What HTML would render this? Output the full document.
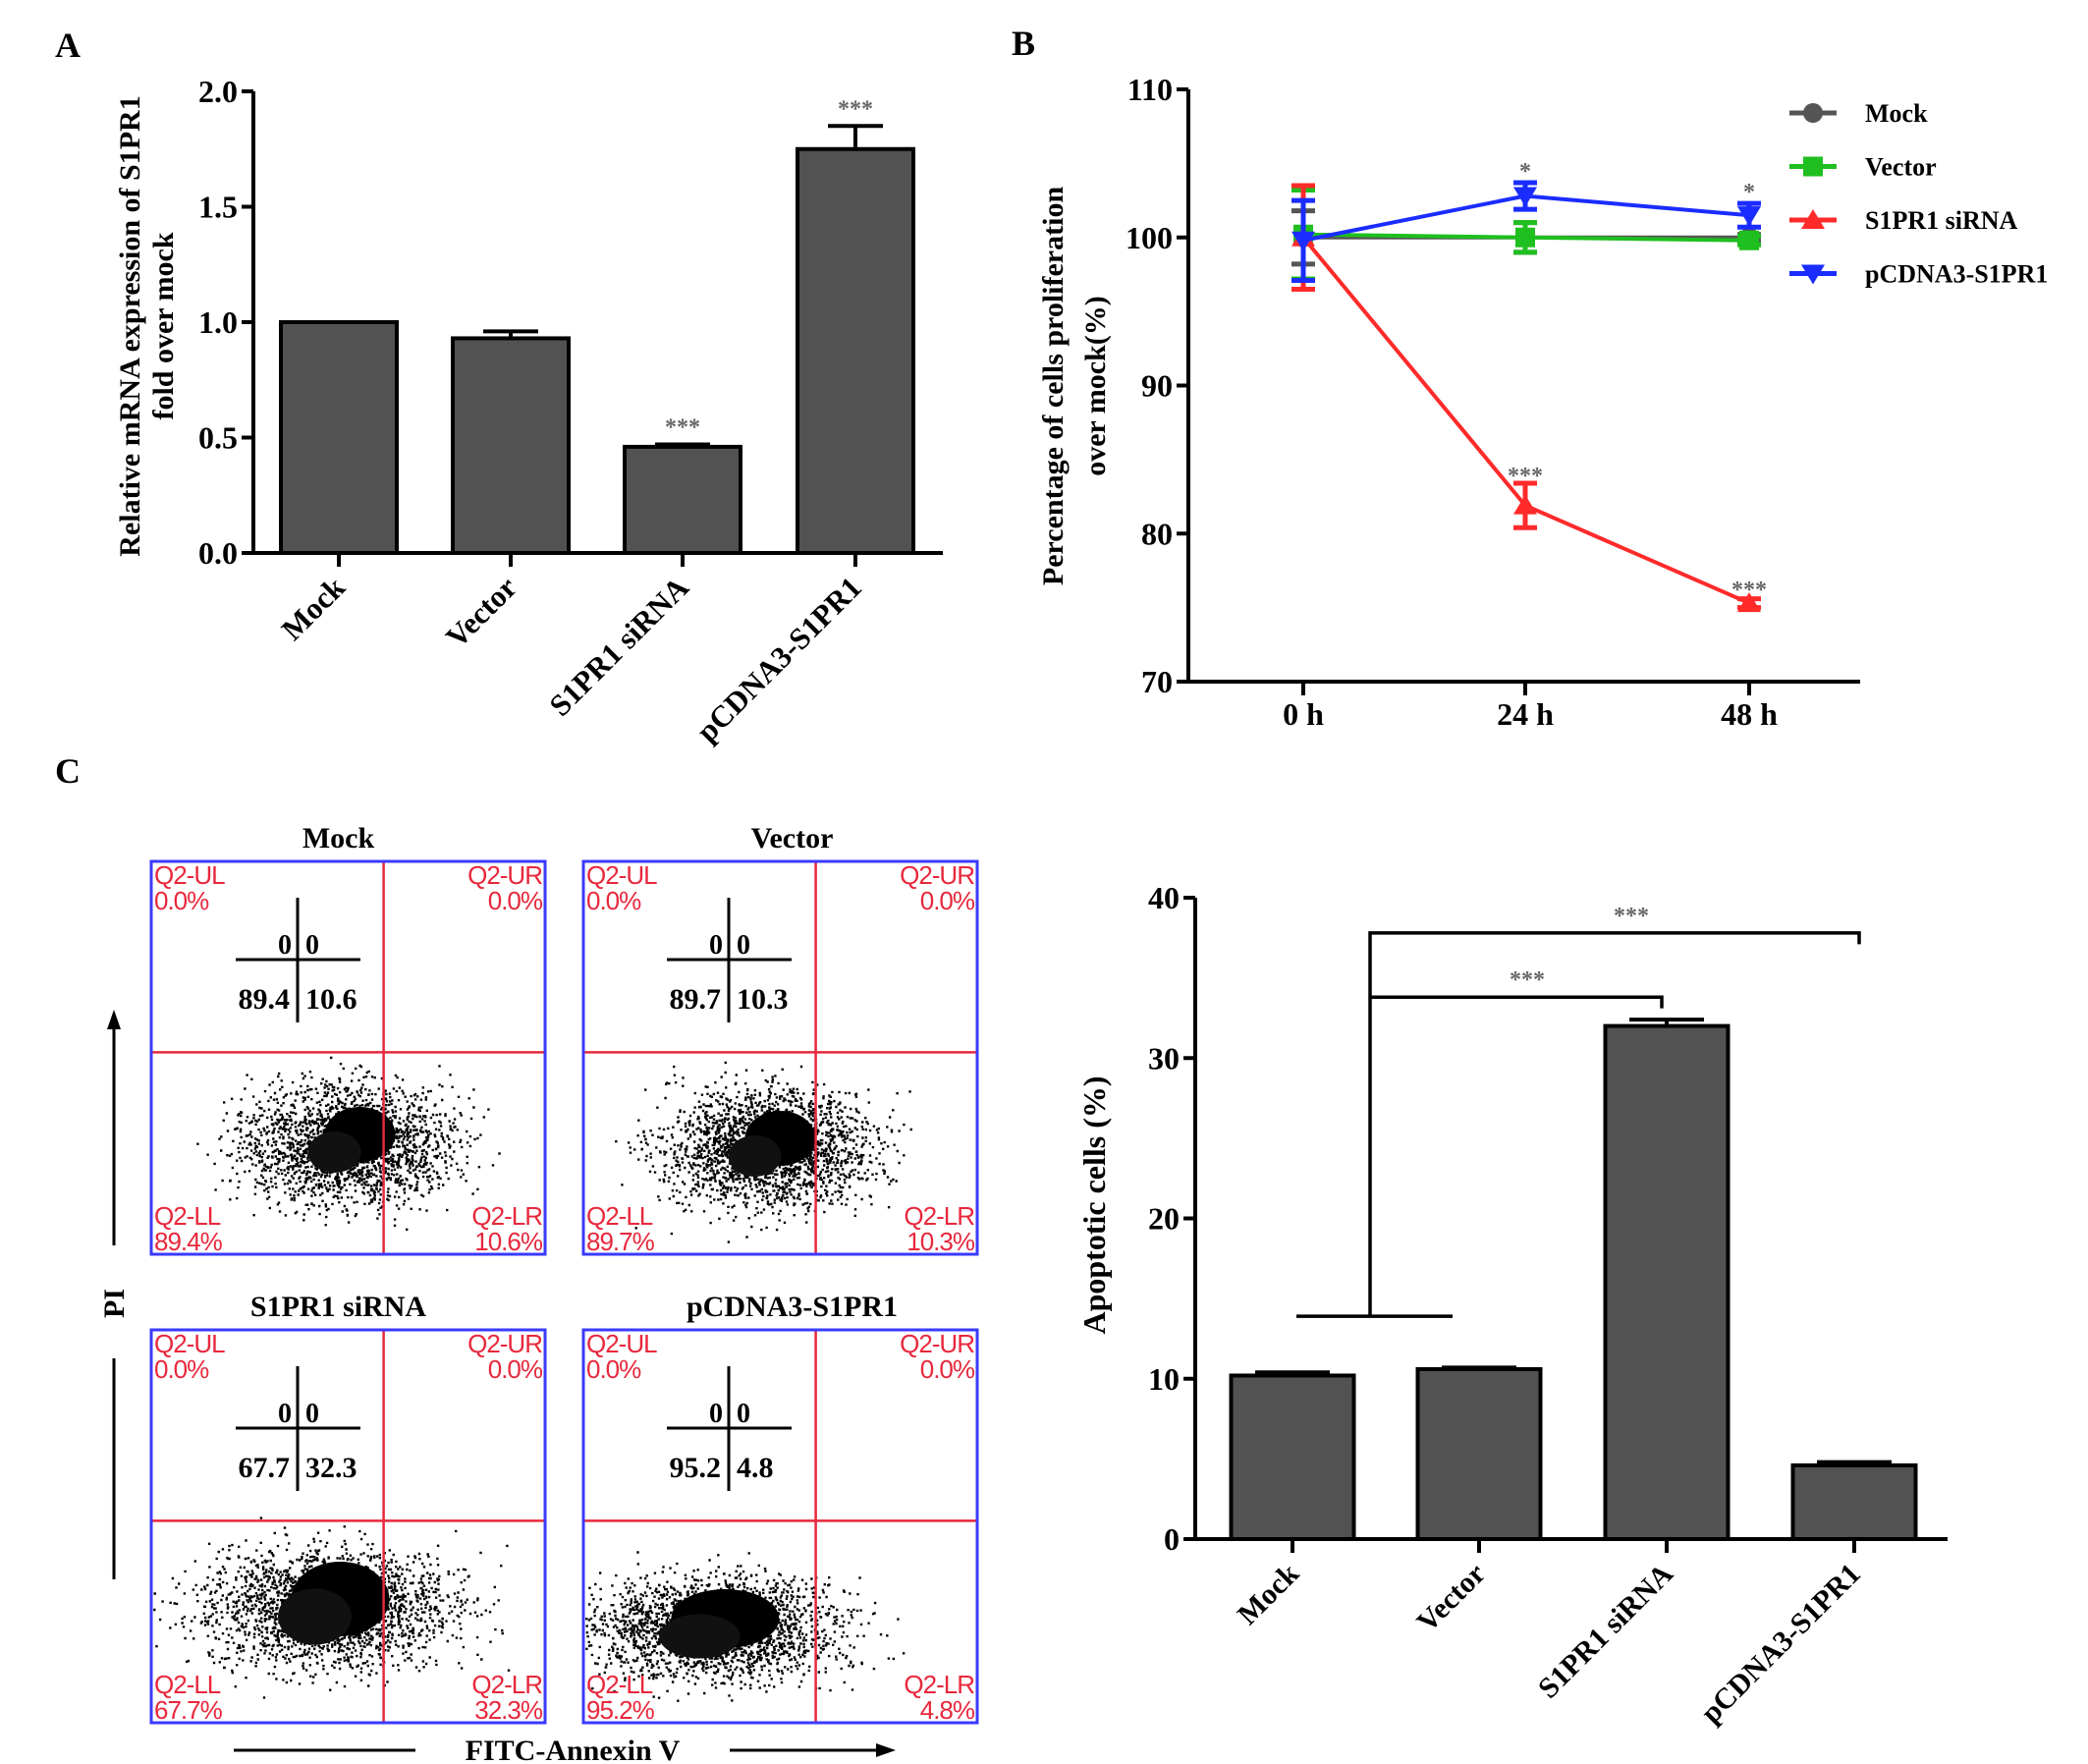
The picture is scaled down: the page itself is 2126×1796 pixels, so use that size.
<!DOCTYPE html>
<html><head><meta charset="utf-8"><style>
html,body{margin:0;padding:0;background:#fff}
svg{display:block}
text{font-family:"Liberation Serif",serif;font-weight:bold}
.q{font-family:"Liberation Sans",sans-serif;font-weight:normal;fill:#e8283c;font-size:26px;letter-spacing:-1px}
</style></head><body>
<svg id="fig" width="2126" height="1796" viewBox="0 0 2126 1796" xmlns="http://www.w3.org/2000/svg">
<text x="56" y="58" font-size="36">A</text>
<text x="1030" y="56" font-size="36">B</text>
<text x="56" y="797" font-size="36">C</text>
<g id="A"></g>
<g id="B"></g>
<g id="C"></g>
<g id="D"></g>
</svg>
<script>
// Panel A data
const aCats=["Mock","Vector","S1PR1 siRNA","pCDNA3-S1PR1"];
const aVals=[1.0,0.93,0.46,1.75];
const aErr=[0,0.03,0.01,0.1];
const aStars=["","","***","***"];
const aTicks=[0,0.5,1.0,1.5,2.0];
// Panel B data
const bTimes=["0 h","24 h","48 h"];
const bSeries=["Mock","Vector","S1PR1 siRNA","pCDNA3-S1PR1"];
const bMock=[100,100,100];
const bVector=[100.2,100,99.8];
const bSi=[100,81.9,75.3];
const bPc=[99.8,102.8,101.5];
const bErrMock=[1.8,1.0,0.2];
const bErrVector=[3.0,1.0,0.3];
const bErrSi=[3.5,1.5,0.3];
const bErrPc=[2.7,0.9,0.8];
const bTicks=[70,80,90,100,110];
// Panel C flow data
const cTitles=["Mock","Vector","S1PR1 siRNA","pCDNA3-S1PR1"];
const cLL=[89.4,89.7,67.7,95.2];
const cLR=[10.6,10.3,32.3,4.8];
const cUL=[0,0,0,0];
const cUR=[0,0,0,0];
// Panel C bar data
const dCats=["Mock","Vector","S1PR1 siRNA","pCDNA3-S1PR1"];
const dVals=[10.2,10.6,32.0,4.6];
const dErr=[0.2,0.1,0.4,0.2];
const dTicks=[0,10,20,30,40];

const NS="http://www.w3.org/2000/svg";
function mk(p,tag,at,txt){const e=document.createElementNS(NS,tag);for(const k in at)e.setAttribute(k,at[k]);if(txt!==undefined)e.textContent=txt;p.appendChild(e);return e;}
const fmt1=v=>v.toFixed(1);

// ---------- Panel A ----------
(function(){
const g=document.getElementById('A');
const x0=258,x1=960,yT=93,yB=563,vmax=2.0;
const y=v=>yB-(v/vmax)*(yB-yT);
const centers=[345,520,695,871],bw=118;
let e=mk(g,'line',{x1:x0,y1:yT,x2:x0,y2:yB,stroke:'#000','stroke-width':4});


e=mk(g,'line',{x1:x0-2,y1:yB,x2:x1,y2:yB,stroke:'#000','stroke-width':4});


aTicks.forEach(t=>{
mk(g,'line',{x1:x0-12,y1:y(t),x2:x0,y2:y(t),stroke:'#000','stroke-width':4});
e=mk(g,'text',{x:x0-16,y:y(t)+11,'font-size':32,'text-anchor':'end'},fmt1(t));


});
aVals.forEach((v,i)=>{
const cx=centers[i];
if(aErr[i]>0){
mk(g,'line',{x1:cx,y1:y(v),x2:cx,y2:y(v+aErr[i]),stroke:'#000','stroke-width':4});
mk(g,'line',{x1:cx-28,y1:y(v+aErr[i]),x2:cx+28,y2:y(v+aErr[i]),stroke:'#000','stroke-width':4});}
e=mk(g,'rect',{x:cx-bw/2,y:y(v),width:bw,height:yB-y(v),fill:'#525252',stroke:'#000','stroke-width':4});


mk(g,'line',{x1:cx,y1:yB,x2:cx,y2:yB+14,stroke:'#000','stroke-width':4});
if(aStars[i]){e=mk(g,'text',{x:cx,y:y(v+aErr[i])-10,'font-size':24,fill:'#666','text-anchor':'middle'},aStars[i]);

}
e=mk(g,'text',{x:cx+8,y:600,'font-size':31,'text-anchor':'end',transform:`rotate(-45 ${cx+8} 600)`},aCats[i]);


});
e=mk(g,'text',{x:0,y:0,'font-size':30,'text-anchor':'middle',transform:'translate(142 332) rotate(-90)'},'Relative mRNA expression of S1PR1');


e=mk(g,'text',{x:0,y:0,'font-size':30,'text-anchor':'middle',transform:'translate(176 332) rotate(-90)'},'fold over mock');


})();

// ---------- Panel B ----------
(function(){
const g=document.getElementById('B');
const x0=1210,x1=1894,yT=91,yB=694,vmin=70,vmax=110;
const y=v=>yB-(v-vmin)/(vmax-vmin)*(yB-yT);
const xs=[1327,1553,1781];
let e=mk(g,'line',{x1:x0,y1:yT,x2:x0,y2:yB,stroke:'#000','stroke-width':4});


e=mk(g,'line',{x1:x0-2,y1:yB,x2:x1,y2:yB,stroke:'#000','stroke-width':4});


bTicks.forEach(t=>{
mk(g,'line',{x1:x0-12,y1:y(t),x2:x0,y2:y(t),stroke:'#000','stroke-width':4});
e=mk(g,'text',{x:x0-16,y:y(t)+11,'font-size':32,'text-anchor':'end'},String(t));


});
bTimes.forEach((t,i)=>{
mk(g,'line',{x1:xs[i],y1:yB,x2:xs[i],y2:yB+14,stroke:'#000','stroke-width':4});
e=mk(g,'text',{x:xs[i],y:738,'font-size':32,'text-anchor':'middle'},t);


});
const series=[[bMock,bErrMock,'#555555','circle'],[bVector,bErrVector,'#1fbf1f','square'],[bSi,bErrSi,'#ff2a2a','tri-up'],[bPc,bErrPc,'#1a2cff','tri-down']];
function marker(p,sh,cx,cy,c,s){
if(sh==='circle')return mk(p,'circle',{cx,cy,r:s,fill:c});
if(sh==='square')return mk(p,'rect',{x:cx-s,y:cy-s,width:2*s,height:2*s,fill:c});
if(sh==='tri-up')return mk(p,'polygon',{points:`${cx},${cy-s*1.1} ${cx-s*1.2},${cy+s*0.9} ${cx+s*1.2},${cy+s*0.9}`,fill:c});
return mk(p,'polygon',{points:`${cx},${cy+s*1.1} ${cx-s*1.2},${cy-s*0.9} ${cx+s*1.2},${cy-s*0.9}`,fill:c});}
series.forEach((s,si)=>{
const [vals,errs,c,sh]=s;
const sg=mk(g,'g',{});


mk(sg,'polyline',{points:vals.map((v,i)=>`${xs[i]},${y(v)}`).join(' '),fill:'none',stroke:c,'stroke-width':4});
vals.forEach((v,i)=>{
const a=y(v+errs[i]),b=y(v-errs[i]);
mk(sg,'line',{x1:xs[i],y1:a,x2:xs[i],y2:b,stroke:c,'stroke-width':5});
mk(sg,'line',{x1:xs[i]-12,y1:a,x2:xs[i]+12,y2:a,stroke:c,'stroke-width':5});
mk(sg,'line',{x1:xs[i]-12,y1:b,x2:xs[i]+12,y2:b,stroke:c,'stroke-width':5});
const m=marker(sg,sh,xs[i],y(v),c,10);


});
const ly=115+si*54.5;
const lg=mk(g,'g',{});


mk(lg,'line',{x1:1822,y1:ly,x2:1870,y2:ly,stroke:c,'stroke-width':5});
marker(lg,sh,1846,ly,c,10);
mk(lg,'text',{x:1899,y:ly+9,'font-size':26},bSeries[si]);
});
const stars=[[xs[1],y(bPc[1]+bErrPc[1])-14,'*'],[xs[2],y(bPc[2]+bErrPc[2])-14,'*'],[xs[1],y(bSi[1]+bErrSi[1])-10,'***'],[xs[2],y(bSi[2])-16,'***']];
stars.forEach(s=>{e=mk(g,'text',{x:s[0],y:s[1]+10,'font-size':24,fill:'#666','text-anchor':'middle'},s[2]);

});
e=mk(g,'text',{x:0,y:0,'font-size':30,'text-anchor':'middle',transform:'translate(1082 393) rotate(-90)'},'Percentage of cells proliferation');


e=mk(g,'text',{x:0,y:0,'font-size':30,'text-anchor':'middle',transform:'translate(1125 393) rotate(-90)'},'over mock(%)');


})();

// ---------- Panel C flow plots ----------
(function(){
const g=document.getElementById('C');
const boxes=[[154,877],[594,877],[154,1354],[594,1354]];
const W=401,H=400;
// [cx frac, cy frac, sigma x frac, sigma y frac, core rx, core ry]
const clouds=[[0.5,0.72,0.13,0.075,36,28],[0.47,0.73,0.13,0.075,36,28],[0.45,0.71,0.16,0.075,50,38],[0.33,0.76,0.16,0.065,55,30]];
let seed=7;
const rnd=()=>{seed=(seed*16807)%2147483647;return (seed-1)/2147483646;};
const gau=()=>{let s=0;for(let k=0;k<4;k++)s+=rnd();return (s-2)/0.577;};
boxes.forEach((b,i)=>{
const [bx,by]=b;
const pg=mk(g,'g',{});


let e=mk(pg,'text',{x:bx+W/2+(i%2?12:-10),y:by-14,'font-size':30,'text-anchor':'middle'},cTitles[i]);


const cl=clouds[i];
const cxp=bx+cl[0]*W,cyp=by+cl[1]*H;
let d='';
for(let k=0;k<2200;k++){
const px=cxp+gau()*cl[2]*W,py=cyp+gau()*cl[3]*H;
if(px<bx+2||px>bx+W-2||py<by+2||py>by+H-2)continue;
d+=`M${px.toFixed(1)} ${py.toFixed(1)}h2.4v2.4h-2.4z`;}
mk(pg,'path',{d,fill:'#000'});
mk(pg,'ellipse',{cx:cxp+12,cy:cyp-10,rx:cl[4],ry:cl[5],fill:'#000'});
mk(pg,'ellipse',{cx:cxp-14,cy:cyp+8,rx:cl[4]*0.75,ry:cl[5]*0.75,fill:'#111'});
const vx=bx+0.59*W,hy=by+0.486*H;
mk(pg,'line',{x1:vx,y1:by,x2:vx,y2:by+H,stroke:'#e8283c','stroke-width':2.5});
mk(pg,'line',{x1:bx,y1:hy,x2:bx+W,y2:hy,stroke:'#e8283c','stroke-width':2.5});
mk(pg,'rect',{x:bx,y:by,width:W,height:H,fill:'none',stroke:'#3a3aff','stroke-width':3});
const q=[[bx+3,by+23,'start','Q2-UL',cUL[i]],[bx+W-3,by+23,'end','Q2-UR',cUR[i]],[bx+3,by+H-30,'start','Q2-LL',cLL[i]],[bx+W-3,by+H-30,'end','Q2-LR',cLR[i]]];
q.forEach(t=>{
e=mk(pg,'text',{x:t[0],y:t[1],'text-anchor':t[2],class:'q'},t[3]);


e=mk(pg,'text',{x:t[0],y:t[1]+26,'text-anchor':t[2],class:'q'},fmt1(t[4])+'%');

});
const ix=bx+(i%2?148:149),iy=by+100;
mk(pg,'line',{x1:ix-63,y1:iy,x2:ix+64,y2:iy,stroke:'#000','stroke-width':3});
mk(pg,'line',{x1:ix,y1:iy-63,x2:ix,y2:iy+64,stroke:'#000','stroke-width':3});
e=mk(pg,'text',{x:ix-6,y:iy-6,'font-size':28,'text-anchor':'end'},String(cUL[i]));


e=mk(pg,'text',{x:ix+8,y:iy-6,'font-size':28,'text-anchor':'start'},String(cUR[i]));


e=mk(pg,'text',{x:ix-8,y:iy+50,'font-size':30,'text-anchor':'end'},fmt1(cLL[i]));


e=mk(pg,'text',{x:ix+8,y:iy+50,'font-size':30,'text-anchor':'start'},fmt1(cLR[i]));


});
mk(g,'line',{x1:116,y1:1046,x2:116,y2:1268,stroke:'#000','stroke-width':3});
mk(g,'polygon',{points:'116,1028 109,1048 123,1048',fill:'#000'});
mk(g,'line',{x1:116,y1:1383,x2:116,y2:1608,stroke:'#000','stroke-width':3});
let e=mk(g,'text',{x:0,y:0,'font-size':30,'text-anchor':'middle',transform:'translate(126 1327) rotate(-90)'},'PI');


mk(g,'line',{x1:238,y1:1782,x2:423,y2:1782,stroke:'#000','stroke-width':3});
mk(g,'line',{x1:743,y1:1782,x2:895,y2:1782,stroke:'#000','stroke-width':3});
mk(g,'polygon',{points:'912,1782 892,1775 892,1789',fill:'#000'});
e=mk(g,'text',{x:583,y:1792,'font-size':30,'text-anchor':'middle'},'FITC-Annexin V');


})();

// ---------- Panel C bar chart ----------
(function(){
const g=document.getElementById('D');
const x0=1217,x1=1983,yT=914,yB=1567,vmax=40;
const y=v=>yB-(v/vmax)*(yB-yT);
const centers=[1316,1506,1697,1888],bw=125;
let e=mk(g,'line',{x1:x0,y1:yT,x2:x0,y2:yB,stroke:'#000','stroke-width':4});


e=mk(g,'line',{x1:x0-2,y1:yB,x2:x1,y2:yB,stroke:'#000','stroke-width':4});


dTicks.forEach(t=>{
mk(g,'line',{x1:x0-12,y1:y(t),x2:x0,y2:y(t),stroke:'#000','stroke-width':4});
e=mk(g,'text',{x:x0-16,y:y(t)+11,'font-size':32,'text-anchor':'end'},String(t));


});
dVals.forEach((v,i)=>{
const cx=centers[i];
mk(g,'line',{x1:cx,y1:y(v),x2:cx,y2:y(v+dErr[i]),stroke:'#000','stroke-width':4});
mk(g,'line',{x1:cx-38,y1:y(v+dErr[i]),x2:cx+38,y2:y(v+dErr[i]),stroke:'#000','stroke-width':4});
e=mk(g,'rect',{x:cx-bw/2,y:y(v),width:bw,height:yB-y(v),fill:'#525252',stroke:'#000','stroke-width':4});


mk(g,'line',{x1:cx,y1:yB,x2:cx,y2:yB+14,stroke:'#000','stroke-width':4});
e=mk(g,'text',{x:cx+8,y:1604,'font-size':30,'text-anchor':'end',transform:`rotate(-45 ${cx+8} 1604)`},dCats[i]);


});
const bk=mk(g,'g',{});


const st={stroke:'#000','stroke-width':3.5,fill:'none'};
mk(bk,'line',Object.assign({x1:1320,y1:y(13.9),x2:1479,y2:y(13.9)},st));
mk(bk,'polyline',Object.assign({points:`1395,${y(13.9)} 1395,${y(37.8)} 1893,${y(37.8)} 1893,${y(37.1)}`},st));
mk(bk,'polyline',Object.assign({points:`1395,${y(33.8)} 1692,${y(33.8)} 1692,${y(33.1)}`},st));
e=mk(bk,'text',{x:1661,y:y(37.8)-10,'font-size':24,fill:'#666','text-anchor':'middle'},'***');


e=mk(bk,'text',{x:1555,y:y(33.8)-10,'font-size':24,fill:'#666','text-anchor':'middle'},'***');


e=mk(g,'text',{x:0,y:0,'font-size':32,'text-anchor':'middle',transform:'translate(1125 1227) rotate(-90)'},'Apoptotic cells (%)');


})();
</script>
</body></html>
